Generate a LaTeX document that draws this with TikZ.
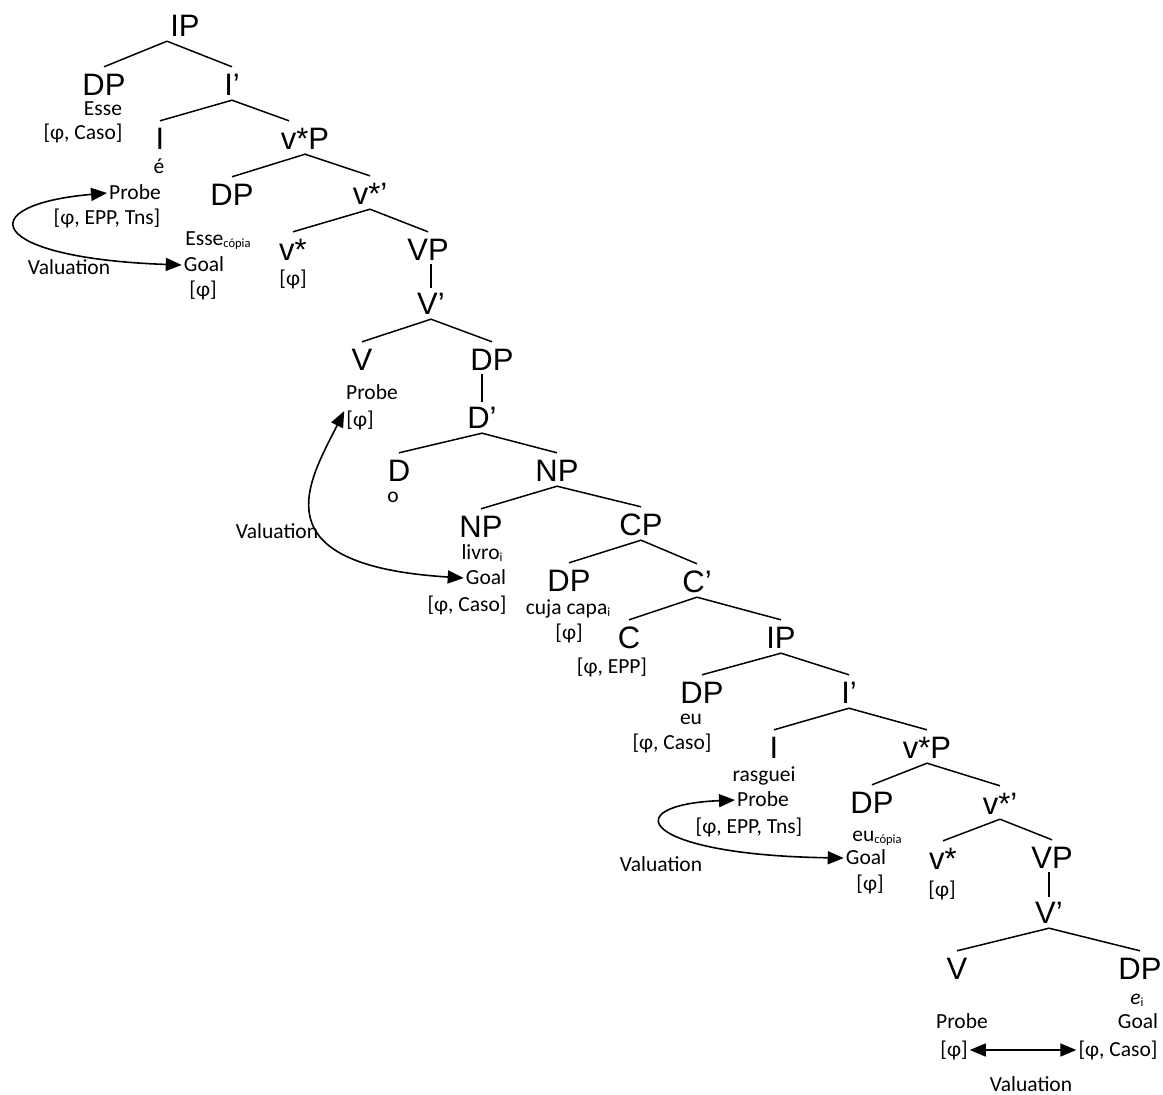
\documentclass[tikz,border=0pt]{standalone}
\usepackage{fontspec}
\setmainfont{Carlito}
\newfontfamily\catfont{Liberation Sans}
\usetikzlibrary{arrows.meta}
\newcommand\lowtxt[1]{\raisebox{-1.5pt}{\fontsize{12.5}{12.5}\selectfont #1}}
\tikzset{
  cat/.style={font=\catfont\fontsize{31}{36}\selectfont,inner xsep=0pt,inner ysep=4pt,text height=22pt,text depth=0pt},
  feat/.style={font=\fontsize{21.5}{25}\selectfont,inner sep=2pt,text height=13.5pt,text depth=0pt},
  branch/.style={line width=1.5pt},
  valarrow/.style={line width=1.6pt,{Triangle[length=16pt,width=13pt]}-{Triangle[length=16pt,width=13pt]}}
}
\begin{document}
\begin{tikzpicture}[x=1pt,y=-1pt]
\useasboundingbox (0,0) rectangle (1163,1095);
% categories
\node[cat] (ipA) at (185,25) {IP};
\node[cat] (dpA) at (104,84) {DP};
\node[cat] (ibarA) at (232,84) {I’};
\node[cat] (iA) at (160,138) {I};
\node[cat] (vpA) at (305,138) {v*P};
\node[cat] (dpB) at (232,194) {DP};
\node[cat] (vbarA) at (370,193) {v*’};
\node[cat] (vA) at (293,249) {v*};
\node[cat] (vpB) at (428,249) {VP};
\node[cat] (VbarA) at (431,303) {V’};
\node[cat] (VA) at (362,359) {V};
\node[cat] (dpC) at (492,359) {DP};
\node[cat] (dbar) at (482,417) {D’};
\node[cat] (dA) at (399,470) {D};
\node[cat] (npA) at (557,470) {NP};
\node[cat] (npB) at (481,526) {NP};
\node[cat] (cpA) at (641,524) {CP};
\node[cat] (dpD) at (569,580) {DP};
\node[cat] (cbar) at (697,581) {C’};
\node[cat] (cA) at (629,637) {C};
\node[cat] (ipB) at (781,637) {IP};
\node[cat] (dpE) at (702,692) {DP};
\node[cat] (ibarB) at (849,692) {I’};
\node[cat] (iB) at (774,747) {I};
\node[cat] (vpC) at (927,747) {v*P};
\node[cat] (dpF) at (872,802) {DP};
\node[cat] (vbarB) at (1000,803) {v*’};
\node[cat] (vB) at (943,858) {v*};
\node[cat] (vpD) at (1052,857) {VP};
\node[cat] (VbarB) at (1049,912) {V’};
\node[cat] (VB) at (957,968) {V};
\node[cat] (dpG) at (1140,968) {DP};
% features
\node[feat] (esseA) at (103,109) {Esse};
\node[feat] (fA) at (83,133) {[φ, Caso]};
\node[feat] (eA) at (159,167) {é};
\node[feat] (probeA) at (135,193) {Probe};
\node[feat] (fB) at (107,218) {[φ, EPP, Tns]};
\node[feat] (esseB) at (218,239) {Esse\lowtxt{cópia}};
\node[feat] (goalA) at (204,265) {Goal};
\node[feat] (fC) at (203,290) {[φ]};
\node[feat] (fD) at (293,279) {[φ]};
\node[feat] (valA) at (69,268) {Valuation};
\node[feat] (probeB) at (372,393) {Probe};
\node[feat] (fE) at (360,420) {[φ]};
\node[feat] (oA) at (393,496) {o};
\node[feat] (livro) at (482,553) {livro\lowtxt{i}};
\node[feat] (goalB) at (486,578) {Goal};
\node[feat] (fF) at (467,605) {[φ, Caso]};
\node[feat] (valB) at (277,532) {Valuation};
\node[feat] (cuja) at (568,608) {cuja capa\lowtxt{i}};
\node[feat] (fG) at (569,633) {[φ]};
\node[feat] (fH) at (612,667) {[φ, EPP]};
\node[feat] (eu) at (691,718) {eu};
\node[feat] (fI) at (672,743) {[φ, Caso]};
\node[feat] (rasg) at (764,775) {rasguei};
\node[feat] (probeC) at (763,800) {Probe};
\node[feat] (fJ) at (749,827) {[φ, EPP, Tns]};
\node[feat] (valC) at (661,865) {Valuation};
\node[feat] (euc) at (877,835) {eu\lowtxt{cópia}};
\node[feat] (goalC) at (866,858) {Goal};
\node[feat] (fK) at (870,884) {[φ]};
\node[feat] (fL) at (942,890) {[φ]};
\node[feat] (ei) at (1137,998) {\textit{e}\lowtxt{i}};
\node[feat] (probeD) at (962,1022) {Probe};
\node[feat] (goalD) at (1138,1022) {Goal};
\node[feat] (fM) at (954,1050) {[φ]};
\node[feat] (fN) at (1118,1050) {[φ, Caso]};
\node[feat] (valD) at (1031,1085) {Valuation};
% branches
\draw[branch]([xshift=-18pt,yshift=-1pt]ipA.south)--([yshift=2pt]dpA.north);
\draw[branch]([xshift=-18pt,yshift=-1pt]ipA.south)--([yshift=2pt]ibarA.north);
\draw[branch]([yshift=-1pt]ibarA.south)--([yshift=2pt]iA.north);
\draw[branch]([yshift=-1pt]ibarA.south)--([xshift=-16pt,yshift=2pt]vpA.north);
\foreach \p/\c in {vpA/dpB,vpA/vbarA,vbarA/vA,vbarA/vpB,VbarA/VA,VbarA/dpC,
  dbar/dA,dbar/npA,npA/npB,npA/cpA,cpA/dpD,cpA/cbar,cbar/cA,cbar/ipB,
  ipB/dpE,ipB/ibarB,ibarB/iB,ibarB/vpC,vpC/dpF,vpC/vbarB,vbarB/vB,vbarB/vpD,
  VbarB/VB,VbarB/dpG}
  \draw[branch]([yshift=-1pt]\p.south)--([yshift=2pt]\c.north);
\foreach \p/\c in {vpB/VbarA,dpC/dbar,vpD/VbarB}
  \draw[branch](\c.north |- \p.south)--(\c.north);
% valuation arrows
\draw[valarrow](probeA.west) .. controls (-30,205) and (-15,258) .. (goalA.west);
\draw[valarrow](fE.north west) .. controls (310,480) and (255,565) .. (goalB.west);
\draw[valarrow](probeC.west) .. controls (615,805) and (640,855) .. (goalC.west);
\draw[valarrow](fM.east)--(fN.west);
\end{tikzpicture}
\end{document}
